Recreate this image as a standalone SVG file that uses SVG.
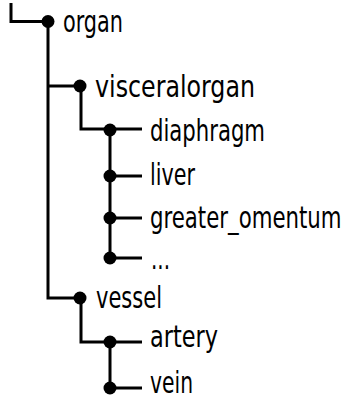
<svg xmlns="http://www.w3.org/2000/svg" width="349" height="401" viewBox="0 0 349 401">
<style>
.ln{fill:none;stroke:#000;stroke-width:3;stroke-linejoin:miter}
.dot{fill:#000}
.lb{font-family:"DejaVu Sans Condensed","DejaVu Sans",sans-serif;font-size:31px;fill:#000}
</style>
<rect width="349" height="401" fill="#fff"/>
<g id="connectors">
<path class="ln" d="M11,3 V21.5 H48"/>
<path class="ln" d="M48,21.5 V298 H80 M48,86 H80"/>
<path class="ln" d="M81,86 V129 H110 V258"/>
<path class="ln" d="M110,129 H142 M110,176 H142 M110,218 H142 M110,258 H142"/>
<path class="ln" d="M81,298 V342 H110 V388"/>
<path class="ln" d="M110,342 H142 M110,388 H142"/>
</g>
<g id="organ"><circle class="dot" cx="48" cy="21.5" r="6.5"/><text class="lb" x="63" y="31.5" textLength="60" lengthAdjust="spacingAndGlyphs">organ</text></g>
<g id="visceralorgan"><circle class="dot" cx="80" cy="86" r="6.5"/><text class="lb" x="95" y="97" textLength="160" lengthAdjust="spacingAndGlyphs">visceralorgan</text></g>
<g id="diaphragm"><circle class="dot" cx="110" cy="130" r="6.5"/><text class="lb" x="150" y="141" textLength="115" lengthAdjust="spacingAndGlyphs">diaphragm</text></g>
<g id="liver"><circle class="dot" cx="110" cy="176" r="6.5"/><text class="lb" x="150" y="185" textLength="45" lengthAdjust="spacingAndGlyphs">liver</text></g>
<g id="greater_omentum"><circle class="dot" cx="110" cy="218" r="6.5"/><text class="lb" transform="translate(150,228) scale(0.76,1)" x="0" y="0" textLength="252" lengthAdjust="spacingAndGlyphs">greater_omentum</text></g>
<g id="more"><circle class="dot" cx="110" cy="258" r="6.5"/><text class="lb" x="151" y="269" textLength="19" lengthAdjust="spacingAndGlyphs">...</text></g>
<g id="vessel"><circle class="dot" cx="80" cy="298" r="6.5"/><text class="lb" x="96" y="308" textLength="66" lengthAdjust="spacingAndGlyphs">vessel</text></g>
<g id="artery"><circle class="dot" cx="110" cy="342" r="6.5"/><text class="lb" x="150" y="347" textLength="68" lengthAdjust="spacingAndGlyphs">artery</text></g>
<g id="vein"><circle class="dot" cx="110" cy="388" r="6.5"/><text class="lb" x="150" y="393" textLength="43" lengthAdjust="spacingAndGlyphs">vein</text></g>
</svg>
